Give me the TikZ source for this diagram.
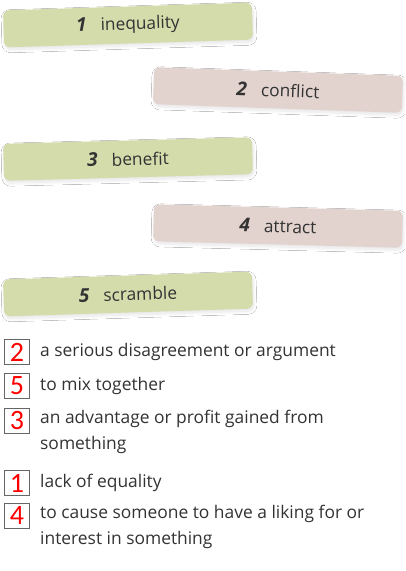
\documentclass[tikz,border=0pt]{standalone}
\usepackage{fontspec}
\setmainfont{Open Sans}
\newfontfamily\numfont{Carlito}
\usetikzlibrary{shadows.blur}
\definecolor{barg}{HTML}{D4DCAC}
\definecolor{barp}{HTML}{E2D3CE}
\definecolor{txt}{HTML}{333333}
\definecolor{numred}{HTML}{FF0000}
\newcommand\barnum[1]{{\fontsize{19}{20}\selectfont\itshape\bfseries #1}\hspace{14pt}}
\begin{document}
\begin{tikzpicture}[x=1pt,y=-1pt,
  bar/.style={rounded corners=6pt, minimum width=249pt, minimum height=37pt, inner sep=0pt,
    text=txt, font=\fontsize{17.3}{18}\selectfont,
    blur shadow={shadow xshift=1pt, shadow yshift=-2.5pt, shadow opacity=10, shadow blur steps=8, shadow blur radius=3pt}},
  gbar/.style={bar, fill=barg},
  pbar/.style={bar, fill=barp},
  numbox/.style={draw=black!60, line width=0.7pt, minimum width=25pt, minimum height=25pt, inner sep=0pt,
    text=numred, font=\numfont\fontsize{28}{28}\selectfont},
  deftext/.style={anchor=west, text=txt, font=\fontsize{17.4}{26}\selectfont, align=left, inner sep=0pt}
]
\useasboundingbox (0,0) rectangle (405,571);
\fill[white] (0,0) rectangle (405,571);

\node[gbar, rotate=1.8] (b1) at (128,25) {\barnum{1}inequality};
\node[pbar, rotate=-2] (b2) at (278,90) {\barnum{2}conflict};
\node[gbar, rotate=1.5] (b3) at (128,159) {\barnum{3}benefit\hspace{28pt}};
\node[pbar, rotate=-1.5] (b4) at (278,226) {\barnum{4}attract};
\node[gbar, rotate=1.8] (b5) at (128,294) {\barnum{5}scramble};

\node[numbox] (n2) at (17,352) {2};
\node[deftext] (d2) at (40,352) {a serious disagreement or argument};
\node[numbox] (n5) at (17,386) {5};
\node[deftext] (d5) at (40,386) {to mix together};
\node[numbox] (n3) at (17,421) {3};
\node[deftext, anchor=north west] (d3) at (40,410) {an advantage or profit gained from\\something};
\node[numbox] (n1) at (17,483) {1};
\node[deftext] (d1) at (40,483) {lack of equality};
\node[numbox] (n4) at (17,516) {4};
\node[deftext, anchor=north west] (d4) at (40,505) {to cause someone to have a liking for or\\interest in something};
\end{tikzpicture}
\end{document}
